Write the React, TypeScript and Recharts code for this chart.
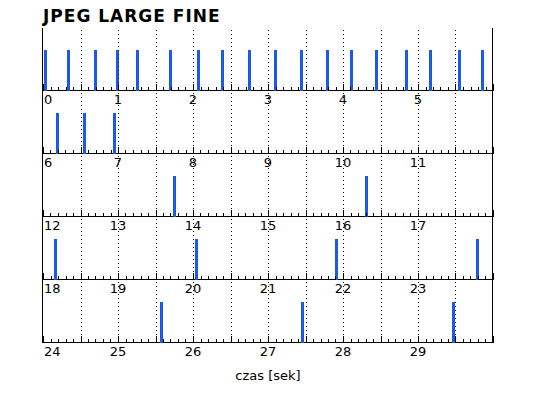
import { ComposedChart, Bar, XAxis, YAxis, ReferenceLine, ReferenceArea } from 'recharts';

const TITLE = 'JPEG LARGE FINE';
const AXIS_LABEL = 'czas [sek]';

// one row per 6 seconds
const STRIP_STARTS = [0, 6, 12, 18, 24];
const STRIP_SECONDS = 6;

// moments when a frame was written (seconds)
const FRAME_TIMES = [
  0.03, 0.34, 0.7, 0.99, 1.25, 1.7, 2.07, 2.39, 2.75, 3.09, 3.44, 3.79, 4.11, 4.44, 4.84, 5.16, 5.55, 5.86,
  6.19, 6.55, 6.94,
  13.74, 16.3,
  18.15, 20.03, 21.9, 23.78,
  25.57, 27.45, 29.46,
];
const FRAME_LEVEL = 1;
const Y_MAX = 1.54;

const BLUE = '#1a5ae6';
const W = 538;
const H = 398;
const LEFT = 43;
const RIGHT = 45;
const FIRST_TOP = 28;
const STRIP_H = 63;
const LABEL_SPACE = 22;
const FONT = '"DejaVu Sans", sans-serif';

const px = (v: number) => Math.round(v) + 0.5;

function Tick(props: any) {
  const { x, y, payload, start } = props;
  const rel = Math.round((payload.value - start) * 10);
  const len = rel % 5 === 0 ? 7 : 4;
  const showLabel = rel % 10 === 0 && rel < 60;
  const lx = px(x);
  return (
    <g>
      <line x1={lx} x2={lx} y1={Math.round(y)} y2={Math.round(y) - len} stroke="#000" strokeWidth={1} />
      {showLabel && (
        <text
          x={rel === 0 ? x + 1 : x}
          y={y + 13}
          textAnchor={rel === 0 ? 'start' : 'middle'}
          fontFamily={FONT}
          fontSize={13}
          fill="#000"
        >
          {Math.round(payload.value)}
        </text>
      )}
    </g>
  );
}

function Strip({ start, top }: { start: number; top: number }) {
  const end = start + STRIP_SECONDS;
  const data = FRAME_TIMES.filter((t) => t >= start && t < end).map((t) => ({ t, v: FRAME_LEVEL }));
  const ticks = Array.from({ length: 61 }, (_, i) => +(start + i / 10).toFixed(1));
  const grid = Array.from({ length: 11 }, (_, i) => start + (i + 1) * 0.5);

  return (
    <div style={{ position: 'absolute', left: 0, top }}>
      <ComposedChart
        width={W}
        height={STRIP_H + LABEL_SPACE}
        data={data}
        margin={{ top: 0, right: RIGHT, left: LEFT, bottom: 0 }}
      >
        <XAxis
          dataKey="t"
          type="number"
          domain={[start, end]}
          ticks={ticks}
          interval={0}
          tickSize={0}
          tickMargin={0}
          height={LABEL_SPACE}
          axisLine={false}
          tickLine={false}
          allowDataOverflow
          tick={(p: any) => <Tick {...p} start={start} />}
        />
        <YAxis type="number" domain={[0, Y_MAX]} hide />
        {grid.map((g) => (
          <ReferenceLine
            key={g}
            x={g}
            stroke="#000"
            shape={(p: any) => (
              <line x1={px(p.x1)} x2={px(p.x2)} y1={p.y1} y2={p.y2} stroke="#000" strokeDasharray="1 3" />
            )}
          />
        ))}
        <Bar
          dataKey="v"
          barSize={3}
          fill={BLUE}
          isAnimationActive={false}
          shape={(p: any) => {
            const y0 = Math.round(p.y);
            const y1 = Math.round(p.y + p.height);
            return <rect x={Math.round(p.x + p.width / 2) - 1} y={y0} width={3} height={y1 - y0} fill={BLUE} />;
          }}
        />
        <ReferenceArea
          x1={start}
          x2={end}
          y1={0}
          y2={Y_MAX}
          ifOverflow="visible"
          shape={(p: any) => (
            <rect
              x={px(p.x) - 1}
              y={px(p.y) - 1}
              width={Math.round(p.width)}
              height={Math.round(p.height)}
              fill="none"
              stroke="#000"
            />
          )}
        />
      </ComposedChart>
    </div>
  );
}

export default function App() {
  return (
    <div style={{ position: 'absolute', left: 0, top: 0, width: W, height: H, background: '#fff' }}>
      <svg width={W} height={H} style={{ position: 'absolute', left: 0, top: 0 }}>
        <text x={LEFT} y={22} fontFamily={FONT} fontWeight="bold" fontSize={17} letterSpacing={1} fill="#000">
          {TITLE}
        </text>
        <text x={268} y={380} textAnchor="middle" fontFamily={FONT} fontSize={13} fill="#000">
          {AXIS_LABEL}
        </text>
      </svg>
      {STRIP_STARTS.map((s, i) => (
        <Strip key={s} start={s} top={FIRST_TOP + i * STRIP_H} />
      ))}
    </div>
  );
}
